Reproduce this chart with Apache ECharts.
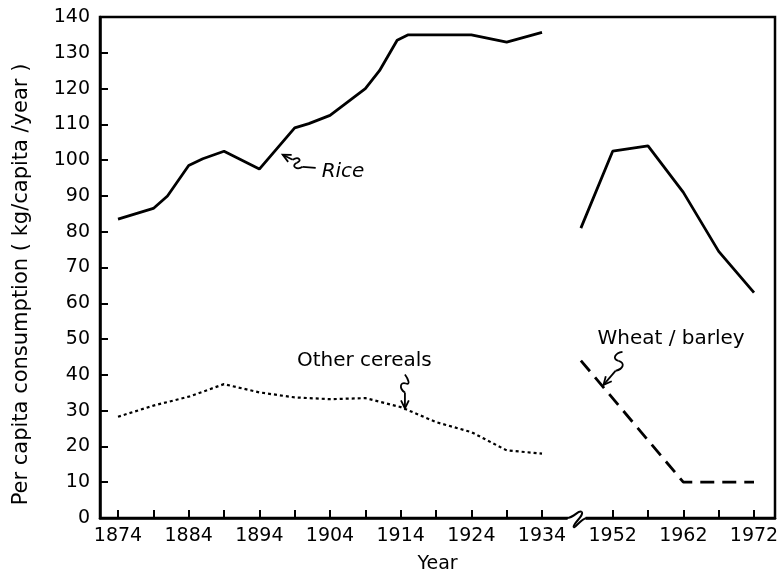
<!DOCTYPE html>
<html>
<head>
<meta charset="utf-8">
<script src="https://cdn.jsdelivr.net/npm/echarts@6/dist/echarts.min.js"></script>
<style>
  html, body { margin: 0; padding: 0; background: #fff; }
  #chart { width: 782px; height: 579px; }
</style>
</head>
<body>
<div id="chart"></div>
<script>
// years after the war are drawn 8 years to the left (axis break)
const BREAK_SHIFT = 8;

// rice, before the break
const riceYearsA = [1874, 1879, 1881, 1884, 1886, 1889, 1894, 1899, 1901, 1904, 1909, 1911, 1913.5, 1915, 1924, 1929, 1934];
const riceA = [83.5, 86.5, 90, 98.5, 100.4, 102.5, 97.5, 109, 110.2, 112.5, 120, 125, 133.5, 135, 135, 133, 135.7];
// rice, after the break
const riceYearsB = [1947.5, 1952, 1957, 1962, 1967, 1972];
const riceB = [81, 102.5, 104, 91, 74.5, 63];

// other cereals
const otherYears = [1874, 1879, 1884, 1889, 1894, 1899, 1904, 1909, 1914, 1919, 1924, 1929, 1934];
const otherCereals = [28.3, 31.4, 33.9, 37.4, 35.1, 33.7, 33.2, 33.5, 31, 26.8, 24, 18.9, 18];

// wheat / barley
const wheatYears = [1947.5, 1962, 1972];
const wheat = [44, 10, 10];

// axis ticks
const labelYearsA = [1874, 1884, 1894, 1904, 1914, 1924, 1934];
const labelYearsB = [1952, 1962, 1972];
const tickYearsA = [1874, 1879, 1884, 1889, 1894, 1899, 1904, 1909, 1914, 1919, 1924, 1929, 1934];
const tickYearsB = [1952, 1957, 1962, 1967, 1972];

const toX = y => (y > 1940 ? y - BREAK_SHIFT : y);
const pairs = (xs, ys) => xs.map((x, i) => [toX(x), ys[i]]);

const FONT = 'DejaVu Sans';
const chart = echarts.init(document.getElementById('chart'));

const lineSeries = (data, type, width) => ({
    type: 'line',
    data,
    symbol: 'none',
    silent: true,
    z: 5,
    lineStyle: { color: '#000', width, type }
});

chart.setOption({
    backgroundColor: '#fff',
    animation: false,
    grid: {
        left: 100, right: 7, top: 17, bottom: 60,
        show: true, borderColor: '#000', borderWidth: 2.5
    },
    xAxis: {
        type: 'value',
        min: 1871.45,
        max: 1966.97,
        name: 'Year',
        nameLocation: 'middle',
        nameGap: 37,
        nameTextStyle: { fontFamily: FONT, fontSize: 19, color: '#000' },
        axisLine: { lineStyle: { color: '#000', width: 2.5 } },
        axisTick: {
            inside: true, length: 8,
            customValues: tickYearsA.concat(tickYearsB).map(toX),
            lineStyle: { color: '#000', width: 2 }
        },
        axisLabel: {
            customValues: labelYearsA.concat(labelYearsB).map(toX),
            formatter: v => String(v > 1940 ? v + BREAK_SHIFT : v),
            margin: 9,
            fontFamily: FONT, fontSize: 19, color: '#000'
        },
        splitLine: { show: false }
    },
    yAxis: {
        type: 'value',
        min: 0, max: 140, interval: 10,
        axisLine: { lineStyle: { color: '#000', width: 2.5 } },
        axisTick: { inside: true, length: 8, lineStyle: { color: '#000', width: 2 } },
        axisLabel: { margin: 10, fontFamily: FONT, fontSize: 19, color: '#000' },
        splitLine: { show: false }
    },
    series: [
        lineSeries(pairs(riceYearsA, riceA), 'solid', 2.8),
        lineSeries(pairs(riceYearsB, riceB), 'solid', 2.8),
        lineSeries(pairs(otherYears, otherCereals), [3, 3], 2.2),
        lineSeries(pairs(wheatYears, wheat), [14, 8], 2.8)
    ]
});

// annotations: squiggly arrows and labels, anchored to data points
const px = (x, y) => chart.convertToPixel({ gridIndex: 0 }, [x, y]);
const STROKE = { fill: null, stroke: '#000', lineWidth: 1.8 };

function seg(o, p) {
    return {
        type: 'line', x: o[0], y: o[1], z: 10,
        shape: { x1: p[0], y1: p[1], x2: p[2], y2: p[3] },
        style: STROKE
    };
}
function bez(o, p) {
    return {
        type: 'bezierCurve', x: o[0], y: o[1], z: 10,
        shape: { x1: p[0], y1: p[1], cpx1: p[2], cpy1: p[3], cpx2: p[4], cpy2: p[5], x2: p[6], y2: p[7] },
        style: STROKE
    };
}
function head(o, dx, dy) {
    const a = Math.atan2(dy, dx), l = 9, s = 0.45;
    return {
        type: 'polyline', x: o[0], y: o[1], z: 10,
        shape: { points: [
            [Math.cos(a - s) * l, Math.sin(a - s) * l], [0, 0],
            [Math.cos(a + s) * l, Math.sin(a + s) * l]
        ] },
        style: STROKE
    };
}
function label(o, text, dx, dy, italic) {
    return {
        type: 'text', x: o[0] + dx, y: o[1] + dy, z: 10,
        style: {
            text, fill: '#000', fontFamily: FONT, fontSize: 20,
            fontStyle: italic ? 'italic' : 'normal',
            align: 'left', verticalAlign: 'middle'
        }
    };
}

const riceTip = px(1897.3, 101.5);
const otherTip = px(1914.6, 30.6);
const wheatTip = px(toX(1950.7), 37.2);
const breakPt = px(1938.9, 0);
const grid = chart.getModel().getComponent('grid').coordinateSystem.getRect();

chart.setOption({
    graphic: [
        // rice
        seg(riceTip, [0, 0, 10, 5]),
        bez(riceTip, [10, 5, 16, 1, 20, 6, 14, 8]),
        bez(riceTip, [14, 8, 8, 11, 14, 16, 20, 12]),
        seg(riceTip, [20, 12, 33, 13]),
        head(riceTip, 10, 5),
        label(riceTip, 'Rice', 39, 17, true),
        // other cereals
        seg(otherTip, [0, 0, 0, -16]),
        bez(otherTip, [0, -16, -6, -20, -5, -27, 1, -25]),
        bez(otherTip, [1, -25, 6, -23, 3, -30, 0, -34]),
        head(otherTip, 0, -16),
        label(otherTip, 'Other cereals', -108, -48, false),
        // wheat / barley
        seg(wheatTip, [0, 0, 12, -14]),
        bez(wheatTip, [12, -14, 20, -16, 22, -22, 15, -24]),
        bez(wheatTip, [15, -24, 8, -26, 12, -32, 19, -33]),
        head(wheatTip, 12, -14),
        label(wheatTip, 'Wheat / barley', -6, -46, false),
        // axis break
        {
            type: 'rect', x: breakPt[0] - 9, y: breakPt[1] - 4, z: 20,
            shape: { width: 18, height: 8 },
            style: { fill: '#fff' }
        },
        {
            type: 'bezierCurve', x: breakPt[0], y: breakPt[1], z: 21,
            shape: { x1: -10, y1: 0, cpx1: -2, cpy1: 0, cpx2: 2, cpy2: -9, x2: 5, y2: -6 },
            style: { fill: null, stroke: '#000', lineWidth: 2 }
        },
        {
            type: 'bezierCurve', x: breakPt[0], y: breakPt[1], z: 21,
            shape: { x1: 5, y1: -6, cpx1: 8, cpy1: -3, cpx2: -4, cpy2: 6, x2: -3, y2: 9 },
            style: { fill: null, stroke: '#000', lineWidth: 2 }
        },
        {
            type: 'bezierCurve', x: breakPt[0], y: breakPt[1], z: 21,
            shape: { x1: -3, y1: 9, cpx1: -2, cpy1: 11, cpx2: 4, cpy2: 1, x2: 10, y2: 0 },
            style: { fill: null, stroke: '#000', lineWidth: 2 }
        },
        // y axis title
        {
            type: 'text', x: 22, y: grid.y + grid.height / 2 + 17, rotation: Math.PI / 2, z: 10,
            style: {
                text: 'Per capita consumption ( kg/capita /year )',
                fill: '#000', fontFamily: FONT, fontSize: 21,
                align: 'center', verticalAlign: 'middle'
            }
        }
    ]
});
</script>
</body>
</html>
